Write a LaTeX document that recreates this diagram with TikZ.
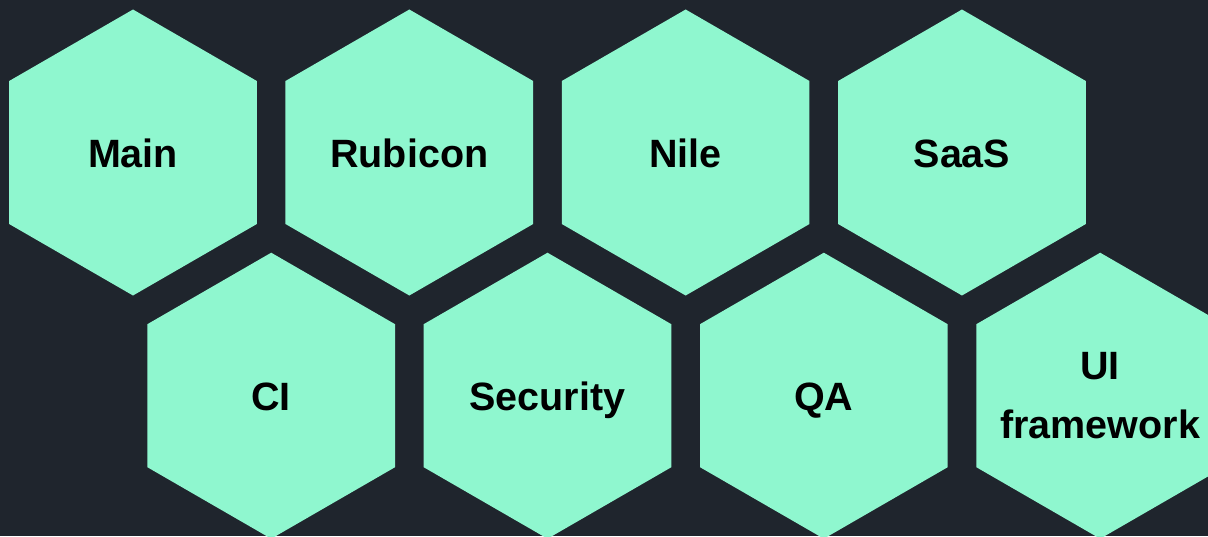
\documentclass[tikz,border=0pt]{standalone}
\usepackage{fontspec}
\setmainfont{Liberation Sans}
\usetikzlibrary{shapes,positioning}

\definecolor{bgdark}{HTML}{1F252D}
\definecolor{mint}{HTML}{8FF7CF}

\tikzset{
  hexcell/.style={regular polygon, regular polygon sides=6, shape border rotate=30,
    minimum size=143pt, inner sep=0pt, outer sep=0pt, fill=mint, text=black,
    text height=14.6pt, text depth=0pt,
    font=\bfseries\fontsize{19.75}{29.5}\selectfont},
  hexlabel/.style={align=center, text=black, inner sep=0pt,
    font=\bfseries\fontsize{19.75}{29.5}\selectfont}
}

\begin{document}
\begin{tikzpicture}

\clip (-66.5pt,76.25pt) rectangle (537.5pt,-191.75pt);
\fill[bgdark] (-66.5pt,76.25pt) rectangle (537.5pt,-191.75pt);

%nodes
\node [hexcell](main) at (0,0){Main};
\node [hexcell, right=14.3pt of main](rubicon){Rubicon};
\node [hexcell, right=14.3pt of rubicon](nile){Nile};
\node [hexcell, right=14.3pt of nile](saas){SaaS};

\node [hexcell, xshift=69.1pt, yshift=-121.6pt](ci) at (main){CI};
\node [hexcell, right=14.3pt of ci](security){Security};
\node [hexcell, right=14.3pt of security](qa){QA};
\node [hexcell, right=14.3pt of qa, label={[hexlabel]center:UI\\framework}](uiframe){};

\end{tikzpicture}
\end{document}
